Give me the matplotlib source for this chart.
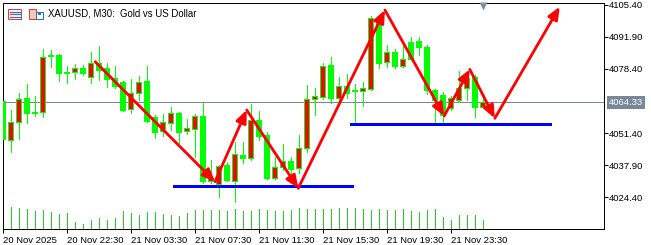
#!/usr/bin/env python3
"""
plot.py — XAUUSD M30 candlestick snapshot with zigzag arrows and support levels.
"""

import numpy as np
import matplotlib

matplotlib.use("Agg")
import matplotlib.pyplot as plt
from matplotlib.patches import Rectangle
from matplotlib.transforms import blended_transform_factory, offset_copy


# ═══════════════════════════════════════════════════════════════════════════════
#  Data
# ═══════════════════════════════════════════════════════════════════════════════

OPENS = [
    4064.90, 4048.50, 4055.95, 4066.04, 4060.30, 4060.28, 4083.70, 4084.25, 4076.60, 4076.97,
    4078.78, 4075.12, 4081.01, 4078.78, 4074.45, 4072.89, 4061.41, 4068.14, 4073.31, 4058.05,
    4052.29, 4055.78, 4059.98, 4052.16, 4053.00, 4058.59, 4031.26, 4030.00, 4037.99, 4031.38,
    4042.19, 4041.06, 4056.91, 4050.60, 4032.39, 4037.27, 4039.67, 4036.60, 4045.01, 4065.62,
    4066.71, 4080.04, 4066.04, 4071.34, 4069.10, 4069.24, 4069.82, 4099.68, 4081.43, 4085.38,
    4079.62, 4089.84, 4090.14, 4087.74, 4069.53, 4067.43, 4061.83, 4065.32, 4070.24, 4075.12,
    4062.25,
]
HIGHS = [
    4065.74, 4061.12, 4068.39, 4072.05, 4067.01, 4086.77, 4086.35, 4084.67, 4079.62, 4080.46,
    4080.04, 4085.51, 4088.03, 4080.76, 4079.62, 4073.31, 4074.03, 4075.42, 4079.62, 4059.02,
    4059.44, 4062.25, 4060.28, 4057.33, 4059.44, 4064.19, 4040.09, 4037.90, 4039.38, 4047.79,
    4047.53, 4063.64, 4060.82, 4051.99, 4041.48, 4046.82, 4041.48, 4050.60, 4071.63, 4070.24,
    4081.01, 4083.53, 4074.87, 4076.26, 4072.05, 4073.02, 4100.65, 4100.65, 4088.45, 4086.65,
    4088.03, 4091.95, 4091.95, 4088.45, 4069.90, 4068.81, 4067.01, 4077.65, 4076.55, 4075.84,
    4066.04,
]
LOWS = [
    4048.08, 4043.45, 4049.05, 4055.78, 4058.59, 4058.30, 4079.08, 4073.44, 4072.60, 4074.03,
    4075.84, 4072.60, 4073.74, 4070.92, 4070.37, 4060.70, 4059.98, 4065.32, 4056.20, 4049.22,
    4050.18, 4052.71, 4047.11, 4051.02, 4041.48, 4030.54, 4030.29, 4024.66, 4031.30, 4022.55,
    4038.96, 4040.09, 4048.50, 4032.30, 4032.00, 4035.88, 4031.68, 4034.50, 4043.58, 4059.02,
    4065.74, 4063.94, 4064.61, 4066.04, 4055.78, 4062.80, 4069.50, 4078.91, 4079.33, 4078.66,
    4079.08, 4082.15, 4084.25, 4067.85, 4055.78, 4055.78, 4061.12, 4064.48, 4065.32, 4058.05,
    4061.83,
]
CLOSES = [
    4048.92, 4055.95, 4065.62, 4059.73, 4060.00, 4083.53, 4084.10, 4076.55, 4077.00, 4078.66,
    4076.55, 4080.76, 4077.94, 4074.28, 4071.21, 4061.12, 4068.14, 4073.02, 4056.62, 4051.99,
    4055.95, 4059.86, 4051.99, 4053.42, 4058.59, 4031.38, 4032.52, 4037.57, 4031.68, 4042.49,
    4041.06, 4056.91, 4050.18, 4032.65, 4037.27, 4039.67, 4036.18, 4045.01, 4065.62, 4067.13,
    4079.62, 4066.29, 4071.34, 4068.27, 4069.40, 4070.24, 4099.68, 4081.01, 4085.38, 4079.62,
    4082.44, 4082.44, 4087.49, 4069.53, 4065.32, 4059.02, 4066.04, 4070.24, 4074.45, 4062.51,
    4064.33,
]
VOLUMES = [
    6200, 6700, 6400, 6000, 5400, 5700, 5100, 4600, 4800, 2100,
    1600, 2800, 3400, 2700, 3400, 5400, 4800, 4300, 5100, 5100,
    4600, 4300, 4000, 4800, 5800, 5700, 5700, 5700, 5400, 6000,
    5400, 5400, 6000, 5700, 5400, 5400, 5600, 6400, 6100, 6000,
    6000, 6000, 6400, 6400, 6400, 6000, 5700, 6000, 5700, 5700,
    6000, 5500, 5100, 5700, 6000, 3700, 2700, 4200, 4200, 4200,
    2700,
]

XTICK_BARS = [0, 8, 16, 24, 32, 40, 48, 56]
XTICK_LABELS = [
    "20 Nov 2025", "20 Nov 22:30", "21 Nov 03:30", "21 Nov 07:30",
    "21 Nov 11:30", "21 Nov 15:30", "21 Nov 19:30", "21 Nov 23:30",
]
YTICK_PRICES = [4024.40, 4037.90, 4051.40, 4078.40, 4091.90, 4105.40]
LAST_PRICE = 4064.33

# zigzag arrow turning points (bar index, price)
ZIGZAG_BARS = [11.54, 26.54, 30.5, 36.95, 47.79, 55.2, 58.41, 61.54, 69.66]
ZIGZAG_PRICES = [4081.43, 4030.96, 4061.12, 4028.19, 4103.17, 4058.59, 4078.23, 4057.63, 4104.56]

# horizontal support levels: price, first bar, last bar
SUPPORT_PRICES = [4029.14, 4055.10]
SUPPORT_STARTS = [21.33, 43.41]
SUPPORT_ENDS = [43.83, 68.54]

TITLE = "XAUUSD, M30:  Gold vs US Dollar"


# ═══════════════════════════════════════════════════════════════════════════════
#  Styling
# ═══════════════════════════════════════════════════════════════════════════════

BULL_COLOR = "#ff0000"
BEAR_COLOR = "#00ff00"
VOLUME_COLOR = "#22cc22"
PRICE_LINE_COLOR = "#778899"
ARROW_COLOR = "#ff0000"
SUPPORT_COLOR = "#0000ff"
FONT_SIZE = 6.8

W, H = 651, 245
PX = 72 / 100  # one pixel in points at dpi 100


def px_rect(x0, y0, x1, y1):
    """Figure-fraction rect from pixel box (top-left origin)."""
    return (x0 / W, 1 - y1 / H, (x1 - x0) / W, (y1 - y0) / H)


def draw_icons(fig):
    # small toolbar-like icons in front of the title
    fig.add_artist(Rectangle((7.5 / W, 1 - 19.5 / H), 13.5 / W, 10.5 / H,
                             transform=fig.transFigure, fc="white", ec="#d04040", lw=1.0 * PX))
    for yy in [12, 14.5, 17]:
        fig.add_artist(plt.Line2D([9.5 / W, 12 / W], [1 - yy / H] * 2, transform=fig.transFigure,
                                  color="#d04040", lw=1.2 * PX))
        fig.add_artist(plt.Line2D([13 / W, 19.5 / W], [1 - yy / H] * 2, transform=fig.transFigure,
                                  color="#3070c0", lw=1.2 * PX))
    fig.add_artist(Rectangle((28.5 / W, 1 - 19.5 / H), 7 / W, 10.5 / H,
                             transform=fig.transFigure, fc="#f6c8bc", ec="#d04040", lw=1.0 * PX))
    fig.add_artist(Rectangle((35.5 / W, 1 - 19.5 / H), 7 / W, 7.5 / H,
                             transform=fig.transFigure, fc="white", ec="#3070c0", lw=1.0 * PX))
    fig.add_artist(Rectangle((37.5 / W, 1 - 15 / H), 3 / W, 3 / H,
                             transform=fig.transFigure, fc="#3070c0", ec="none"))


def main():
    plt.rcParams["font.family"] = ["Liberation Sans", "DejaVu Sans"]

    fig = plt.figure(figsize=(W / 100, H / 100), dpi=100)
    fig.patch.set_facecolor("white")
    ax = fig.add_axes(px_rect(2.5, 3.3, 604, 229))

    # volumes sit underneath the candles on their own scale
    ax_vol = ax.twinx()
    ax_vol.set_zorder(0)
    ax.set_zorder(1)
    ax.patch.set_visible(False)

    idx = np.arange(len(OPENS))
    o, h, l, c = map(np.array, (OPENS, HIGHS, LOWS, CLOSES))
    bull = c >= o

    ax_vol.vlines(idx, 0, VOLUMES, color=VOLUME_COLOR, lw=1.0 * PX, antialiased=False)
    ax_vol.set_ylim(0, max(VOLUMES) * 10.1)
    ax_vol.set_yticks([])
    for s in ax_vol.spines.values():
        s.set_visible(False)

    # current price line
    ax.axhline(LAST_PRICE, color=PRICE_LINE_COLOR, lw=1.0 * PX, zorder=1, antialiased=False)

    # candles
    ax.vlines(idx, l, h, color=BEAR_COLOR, lw=1.0 * PX, zorder=2, antialiased=False)
    ax.bar(idx, np.abs(c - o), 0.6, bottom=np.minimum(o, c),
           color=np.where(bull, BULL_COLOR, BEAR_COLOR), edgecolor=BEAR_COLOR,
           linewidth=1.0 * PX, zorder=3, antialiased=False)

    # support levels
    ax.hlines(SUPPORT_PRICES, SUPPORT_STARTS, SUPPORT_ENDS, color=SUPPORT_COLOR,
              lw=3.0 * PX, zorder=4, antialiased=False)

    # zigzag arrows
    for k in range(len(ZIGZAG_BARS) - 1):
        ax.annotate(
            "",
            xy=(ZIGZAG_BARS[k + 1], ZIGZAG_PRICES[k + 1]),
            xytext=(ZIGZAG_BARS[k], ZIGZAG_PRICES[k]),
            arrowprops=dict(arrowstyle="-|>,head_length=0.75,head_width=0.32",
                            color=ARROW_COLOR, lw=2.8 * PX, mutation_scale=10,
                            shrinkA=0, shrinkB=0),
            annotation_clip=False,
            zorder=5,
        )

    ax.set_xlim(-0.05, 75.2)
    ax.set_ylim(4011.06, 4106.0)

    # axes cosmetics
    for s in ax.spines.values():
        s.set_color("black")
        s.set_linewidth(1.0 * PX)

    ax.set_xticks(XTICK_BARS)
    ax.set_xticklabels(XTICK_LABELS, fontsize=FONT_SIZE)
    for lab in ax.get_xticklabels():
        lab.set_horizontalalignment("left")
    ax.tick_params(axis="x", length=4 * PX, width=1.0 * PX, pad=2.2)

    ax.yaxis.tick_right()
    ax.set_yticks(YTICK_PRICES)
    ax.set_yticklabels([f"{p:.2f}" for p in YTICK_PRICES], fontsize=FONT_SIZE)
    ax.tick_params(axis="y", length=4 * PX, width=1.0 * PX, pad=0.6)

    # last price tag on the price scale
    tag_tr = offset_copy(blended_transform_factory(ax.transAxes, ax.transData),
                         fig=fig, x=5.0, y=0, units="dots")
    ax.text(1.0, LAST_PRICE, f"{LAST_PRICE:.2f}", transform=tag_tr, ha="left", va="center",
            color="white", fontsize=FONT_SIZE, clip_on=False, zorder=6,
            bbox=dict(boxstyle="square,pad=0.22", fc=PRICE_LINE_COLOR, ec="none"))

    # chart shift marker above the last bar
    ax.plot([idx[-1]], [0.99], marker="v", ms=6, color="#8090a0", mec="none",
            transform=blended_transform_factory(ax.transData, ax.transAxes),
            clip_on=False, zorder=6)

    draw_icons(fig)
    fig.text(48 / W, 1 - 14 / H, TITLE, ha="left", va="center", fontsize=6.9, color="black")

    fig.savefig("out.png", dpi=100)
    plt.close(fig)


if __name__ == "__main__":
    main()
